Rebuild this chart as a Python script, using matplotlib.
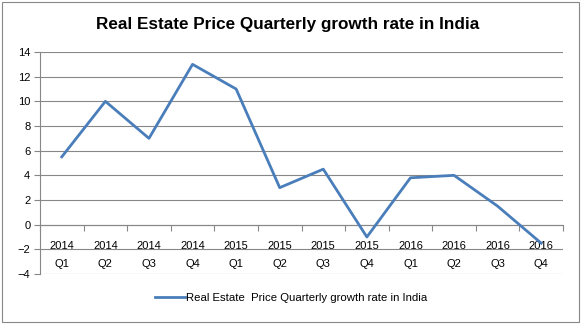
import numpy as np
import matplotlib.pyplot as plt
from matplotlib.patches import Rectangle

# quarterly data
years = ['2014', '2014', '2014', '2014', '2015', '2015', '2015', '2015',
         '2016', '2016', '2016', '2016']
quarters = ['Q1', 'Q2', 'Q3', 'Q4'] * 3
growth = [5.5, 10, 7, 13, 11, 3, 4.5, -1, 3.8, 4, 1.5, -1.5]
series_name = 'Real Estate  Price Quarterly growth rate in India'

plt.rcParams['font.family'] = ['Liberation Sans', 'DejaVu Sans']

fig = plt.figure(figsize=(5.81, 3.24), dpi=100)
ax = fig.add_axes([40 / 581, 1 - 274 / 324, 523 / 581, 222 / 324])

x = np.arange(len(growth))
ax.plot(x, growth, color='#4A7EBB', lw=2.0, label=series_name, zorder=3)

ax.set_xlim(-0.5, len(growth) - 0.5)
ax.set_ylim(-4, 14)
ax.set_yticks(range(-4, 15, 2))
ax.yaxis.grid(True, color='#878787', lw=0.8)
ax.set_axisbelow(True)

grey = '#878787'
for s in ['top', 'right']:
    ax.spines[s].set_visible(False)
ax.spines['left'].set_color(grey)
ax.spines['bottom'].set_color(grey)
ax.spines['bottom'].set_position(('data', 0))

# category ticks at boundaries, labels at centres
ax.set_xticks(np.arange(-0.5, len(growth), 1))
ax.set_xticklabels([])
ax.set_xticks(x, minor=True)
ax.set_xticklabels([f'{y}\n{q}' for y, q in zip(years, quarters)], minor=True,
                   fontsize=8, linespacing=1.9)
ax.tick_params(axis='x', which='major', direction='out', length=4, color=grey)
ax.tick_params(axis='x', which='minor', length=0, pad=12)
ax.tick_params(axis='y', direction='out', length=4, color=grey, labelsize=8, pad=3)

# chart title, centred on the whole chart like Excel does
fig.text(288 / 581, 1 - 25 / 324, 'Real Estate Price Quarterly growth rate in India',
         ha='center', va='center', fontsize=12.3, fontweight='bold')

fig.legend(loc='center', bbox_to_anchor=(291 / 581, 1 - 298 / 324), frameon=False,
           fontsize=8.2, handlelength=2.6, handletextpad=0.1)

fig.patches.append(Rectangle((0.003, 0.005), 0.994, 0.99, transform=fig.transFigure,
                             fill=False, edgecolor=grey, lw=0.8))

fig.savefig('out.png', dpi=100)
